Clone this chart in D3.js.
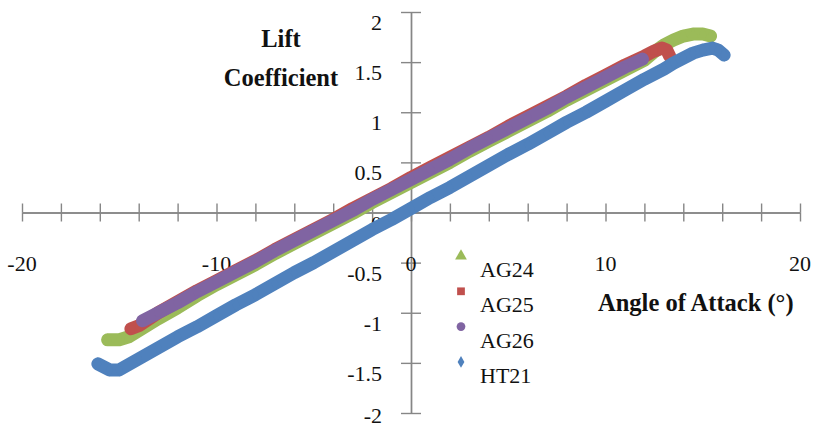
<!DOCTYPE html>
<html>
<head>
<meta charset="utf-8">
<script src="https://cdn.jsdelivr.net/npm/d3@7"></script>
<style>
  html, body { margin: 0; padding: 0; background: #fff; }
  svg { display: block; }
  svg text { font-family: "Liberation Serif"; }
</style>
</head>
<body>
<svg id="chart" width="814" height="427"></svg>
<script>
// ---- data ----
const seriesNames = ["AG24", "AG25", "AG26", "HT21"];
const seriesColors = ["#9BBB59", "#C0504D", "#8064A2", "#4F81BD"];

const AG24 = [[-15.6,-1.27],[-15.0,-1.27],[-14.5,-1.24],[-14,-1.18],[-13,-1.06],[-12,-0.95],[-11,-0.83],[-10,-0.72],
  [-9,-0.62],[-8,-0.52],[-7,-0.41],[-6,-0.31],[-5,-0.21],[-4,-0.11],[-3,-0.01],[-2,0.10],[-1,0.20],[0,0.30],
  [1,0.40],[2,0.50],[3,0.61],[4,0.71],[5,0.81],[6,0.91],[7,1.01],[8,1.12],[9,1.22],[10,1.32],[11,1.42],[12,1.52],
  [12.5,1.60],[13,1.67],[13.5,1.72],[14,1.76],[14.5,1.78],[15,1.78],[15.4,1.76]];

const AG25 = [[-14.4,-1.16],[-14,-1.13],[-13,-1.00],[-12,-0.89],[-11,-0.78],[-10,-0.68],[-9,-0.58],[-8,-0.48],
  [-7,-0.37],[-6,-0.27],[-5,-0.17],[-4,-0.07],[-3,0.04],[-2,0.14],[-1,0.24],[0,0.35],[1,0.45],[2,0.55],[3,0.65],
  [4,0.75],[5,0.86],[6,0.96],[7,1.06],[8,1.16],[9,1.27],[10,1.37],[11,1.47],[12,1.56],[12.5,1.61],[12.9,1.64],
  [13.15,1.62],[13.3,1.56]];

const AG26 = [[-13.8,-1.08],[-13,-1.00],[-12,-0.90],[-11,-0.79],[-10,-0.69],[-9,-0.59],[-8,-0.49],[-7,-0.38],
  [-6,-0.28],[-5,-0.18],[-4,-0.08],[-3,0.02],[-2,0.13],[-1,0.23],[0,0.33],[1,0.43],[2,0.53],[3,0.64],[4,0.74],
  [5,0.84],[6,0.94],[7,1.04],[8,1.15],[9,1.25],[10,1.35],[11,1.45],[11.9,1.53]];

const HT21 = [[-16.1,-1.51],[-15.5,-1.57],[-15,-1.57],[-14,-1.46],[-13,-1.35],[-12,-1.24],[-11,-1.14],[-10,-1.03],
  [-9,-0.92],[-8,-0.82],[-7,-0.71],[-6,-0.60],[-5,-0.50],[-4,-0.39],[-3,-0.28],[-2,-0.17],[-1,-0.07],[0,0.04],
  [1,0.15],[2,0.25],[3,0.36],[4,0.47],[5,0.58],[6,0.68],[7,0.79],[8,0.90],[9,1.00],[10,1.11],[11,1.22],[12,1.33],
  [13,1.43],[13.5,1.49],[14,1.54],[14.5,1.59],[15,1.62],[15.5,1.64],[15.8,1.62],[16.1,1.57]];

const xTickLabels = [-20, -10, 0, 10, 20];
const yTickLabels = [-2, -1.5, -1, -0.5, 0, 0.5, 1, 1.5, 2];

// ---- drawing ----
const svg = d3.select("#chart");
const x = d3.scaleLinear().domain([-20, 20]).range([22, 800]);
const y = d3.scaleLinear().domain([-2, 2]).range([413, 12]);
const axisColor = "#868686";
const serif = sel => sel.style("font-family", '"Liberation Serif"').attr("fill", "#111");

// x axis (ticks crossing both sides)
const xTicks = d3.range(-20, 21, 2);
const gx1 = svg.append("g").attr("transform", `translate(0,${y(0)})`)
  .call(d3.axisBottom(x).tickValues(xTicks).tickSize(9).tickSizeOuter(0).tickFormat(""));
const gx2 = svg.append("g").attr("transform", `translate(0,${y(0)})`)
  .call(d3.axisTop(x).tickValues(xTicks).tickSize(9).tickSizeOuter(0).tickFormat(""));
// y axis
const yTicks = d3.range(-2, 2.01, 0.5);
const gy1 = svg.append("g").attr("transform", `translate(${x(0)},0)`)
  .call(d3.axisLeft(y).tickValues(yTicks).tickSize(10).tickSizeOuter(0).tickFormat(""));
const gy2 = svg.append("g").attr("transform", `translate(${x(0)},0)`)
  .call(d3.axisRight(y).tickValues(yTicks).tickSize(10).tickSizeOuter(0).tickFormat(""));
[gx1, gx2, gy1, gy2].forEach(g => {
  g.attr("font-family", null).attr("font-size", null);
  g.selectAll("path.domain").attr("stroke", axisColor).attr("stroke-width", 1.4);
  g.selectAll(".tick line").attr("stroke", axisColor).attr("stroke-width", 1.4);
});

// tick labels
svg.append("g").selectAll("text").data(xTickLabels).join("text")
  .attr("x", d => x(d)).attr("y", y(0) + 58)
  .attr("text-anchor", "middle").attr("font-size", 22).call(serif)
  .text(d => d);
svg.append("g").selectAll("text").data(yTickLabels).join("text")
  .attr("x", x(0) - 29).attr("y", d => Math.min(y(d) + 18, 423))
  .attr("text-anchor", "end").attr("font-size", 22).call(serif)
  .text(d => d);

// series
const allSeries = [AG24, AG25, AG26, HT21];
const symbols = [d3.symbolTriangle, d3.symbolSquare, d3.symbolCircle, d3.symbolDiamond];
const line = d3.line().x(d => x(d[0])).y(d => y(d[1])).curve(d3.curveLinear);
allSeries.forEach((data, i) => {
  const g = svg.append("g");
  g.append("path").datum(data).attr("d", line)
    .attr("fill", "none").attr("stroke", seriesColors[i]).attr("stroke-width", 13)
    .attr("stroke-linecap", "round").attr("stroke-linejoin", "round");
  g.selectAll("path.m").data(data).join("path").attr("class", "m")
    .attr("transform", d => `translate(${x(d[0])},${y(d[1])})`)
    .attr("d", d3.symbol().type(symbols[i]).size(50))
    .attr("fill", seriesColors[i]);
});

// legend
const legend = svg.append("g");
seriesNames.forEach((name, i) => {
  const by = 277 + i * 35.3;
  legend.append("path")
    .attr("transform", `translate(461,${by - 21})`)
    .attr("d", d3.symbol().type(symbols[i]).size(i === 3 ? 40 : 60))
    .attr("fill", seriesColors[i]);
  legend.append("text").attr("x", 480).attr("y", by)
    .attr("font-size", 22).call(serif).text(name);
});

// axis titles
const title = (t, xx, yy, anchor) => svg.append("text").attr("x", xx).attr("y", yy)
  .attr("text-anchor", anchor).attr("font-size", 24.5).attr("font-weight", "bold")
  .call(serif).text(t);
title("Lift", 281, 47, "middle");
title("Coefficient", 281, 86, "middle");
title("Angle of Attack (°)", 598, 311, "start");
</script>
</body>
</html>
